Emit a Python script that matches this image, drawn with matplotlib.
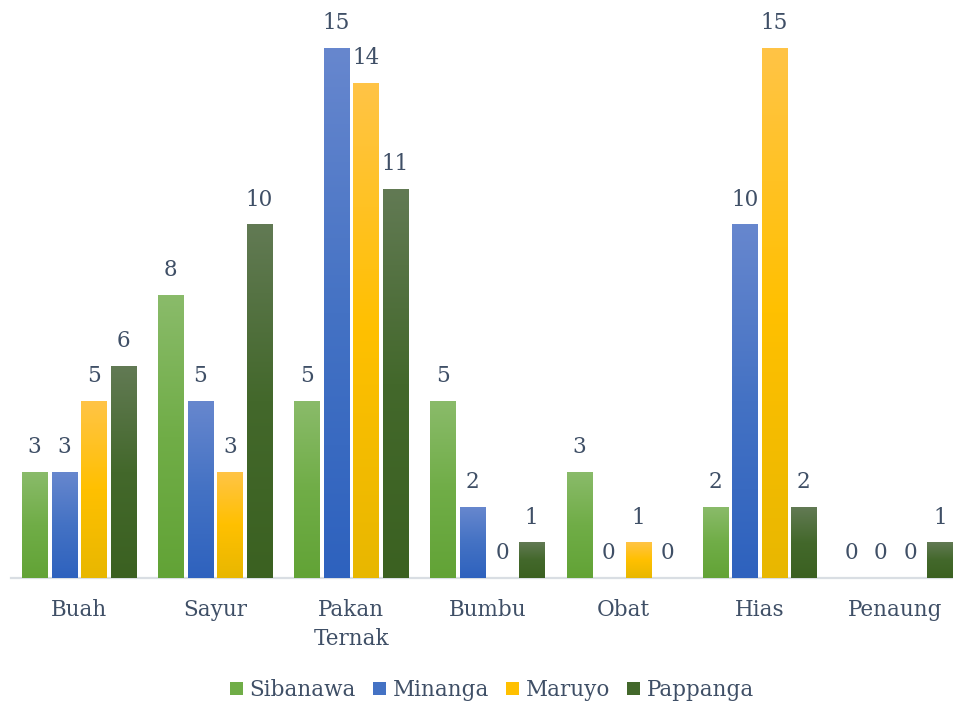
import matplotlib
matplotlib.use("Agg")
import matplotlib.pyplot as plt
import numpy as np
from matplotlib.patches import Patch

categories = ["Buah", "Sayur", "Pakan\nTernak", "Bumbu", "Obat", "Hias", "Penaung"]
series_names = ["Sibanawa", "Minanga", "Maruyo", "Pappanga"]
sibanawa = [3, 8, 5, 5, 3, 2, 0]
minanga = [3, 5, 15, 2, 0, 10, 0]
maruyo = [5, 3, 14, 0, 1, 15, 0]
pappanga = [6, 10, 11, 1, 0, 2, 1]
series_values = [sibanawa, minanga, maruyo, pappanga]

# gradient stops (top, middle, bottom)
grad = [
    [(138, 187, 106), (112, 173, 71), (98, 163, 54)],
    [(103, 135, 206), (68, 114, 196), (46, 98, 190)],
    [(255, 196, 70), (255, 192, 0), (232, 183, 0)],
    [(98, 122, 84), (67, 104, 43), (59, 97, 33)],
]
legend_cols = ["#70AD47", "#4472C4", "#FFC000", "#43682B"]
text_col = "#3F4F66"
font = "DejaVu Serif"

W, H = 954, 702
fig = plt.figure(figsize=(W / 100, H / 100), dpi=100)
ax = fig.add_axes([11 / W, (H - 578) / H, 952.5 / W, 565.3 / H])
ax.set_xlim(-0.5, 6.5)
ax.set_ylim(0, 16)

x = np.arange(len(categories))
pitch = 0.217
bw = 0.184
offsets = (np.arange(4) - 1.5) * pitch


def make_grad(stops, n=256):
    t = np.linspace(0, 1, n)[:, None]  # 0 bottom -> 1 top
    top, mid, bot = [np.array(s) / 255.0 for s in stops]
    lower = bot + (mid - bot) * (t / 0.5)
    upper = mid + (top - mid) * ((t - 0.5) / 0.5)
    img = np.where(t < 0.5, lower, upper)
    return img[:, None, :]


for si, vals in enumerate(series_values):
    img = make_grad(grad[si])
    for ci, v in enumerate(vals):
        xc = x[ci] + offsets[si]
        if v > 0:
            ax.imshow(img, extent=[xc - bw / 2, xc + bw / 2, 0, v], origin="lower",
                      aspect="auto", interpolation="bilinear", zorder=2)
        ax.annotate(str(v), (xc, v), xytext=(0, 10), textcoords="offset points",
                    ha="center", va="bottom", fontsize=15.5, color=text_col,
                    family=font)

ax.set_xlim(-0.5, 6.5)
ax.set_ylim(0, 16)

for s in ["top", "right", "left"]:
    ax.spines[s].set_visible(False)
ax.spines["bottom"].set_color("#D9DEE3")
ax.spines["bottom"].set_linewidth(1.6)
ax.spines["bottom"].set_zorder(1)
ax.set_yticks([])
ax.set_xticks(x)
ax.set_xticklabels(categories, fontsize=15.5, color=text_col, family=font,
                   linespacing=1.4)
ax.tick_params(axis="x", length=0, pad=15)

handles = [Patch(facecolor=c, edgecolor="none") for c in legend_cols]
fig.legend(handles, series_names, loc="center", bbox_to_anchor=(492 / W, 1 - 690 / H),
           ncol=4, frameon=False, handlelength=0.6, handleheight=0.6,
           handletextpad=0.3, columnspacing=0.8,
           prop={"family": font, "size": 15.5}, labelcolor=text_col)

fig.savefig("out.png", dpi=100)
